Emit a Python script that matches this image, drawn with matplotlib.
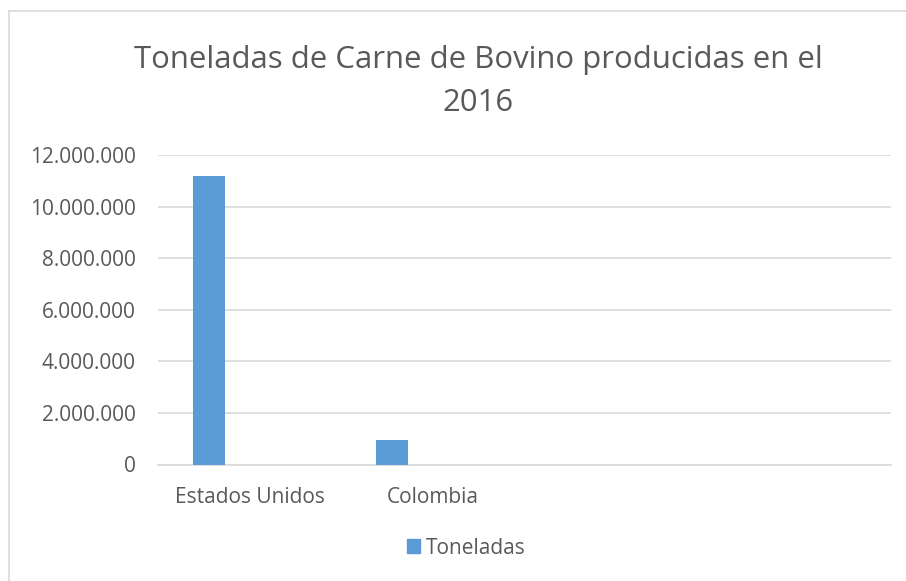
import matplotlib.pyplot as plt
from matplotlib.ticker import FuncFormatter, MultipleLocator
from matplotlib.lines import Line2D
from matplotlib.patches import Patch

# data
categories = ["Estados Unidos", "Colombia", "", ""]
toneladas = [11200000, 940000, 0, 0]
y_ticks_step = 2000000

plt.rcParams["font.family"] = ["Open Sans", "DejaVu Sans"]
grey_txt = "#595959"
bar_color = "#5b9bd5"

fig = plt.figure(figsize=(9.06, 5.81), dpi=100)
ax = fig.add_axes([158 / 906, 1 - 464.5 / 581, 733 / 906, 309.5 / 581])

x = list(range(len(categories)))
offset = -0.222  # first of a clustered group
ax.bar([i + offset for i in x], toneladas, width=0.175, color=bar_color, zorder=3)

ax.set_xlim(-0.5, len(categories) - 0.5)
ax.set_ylim(0, 12000000)
ax.yaxis.set_major_locator(MultipleLocator(y_ticks_step))
ax.yaxis.set_major_formatter(FuncFormatter(lambda v, p: f"{int(v):,}".replace(",", ".")))
ax.set_xticks(x)
ax.set_xticklabels(categories)
ax.tick_params(axis="both", length=0, labelsize=15, labelcolor=grey_txt)
ax.tick_params(axis="y", pad=16)
ax.tick_params(axis="x", pad=16)
ax.grid(axis="y", color="#d9d9d9", linewidth=1.2, zorder=0)
for s in ["top", "right", "left"]:
    ax.spines[s].set_visible(False)
ax.spines["bottom"].set_color("#d9d9d9")
ax.spines["bottom"].set_linewidth(1.2)

fig.text(478 / 906, 1 - 60 / 581, "Toneladas de Carne de Bovino producidas en el",
         ha="center", va="center", fontsize=22.4, color=grey_txt)
fig.text(478 / 906, 1 - 103 / 581, "2016",
         ha="center", va="center", fontsize=22.4, color=grey_txt)

# chart area border (top and left visible)
fig.add_artist(Line2D([9 / 906, 1], [1 - 11 / 581] * 2, color="#d9d9d9", linewidth=1.2))
fig.add_artist(Line2D([9 / 906] * 2, [0, 1 - 11 / 581], color="#d9d9d9", linewidth=1.2))

fig.legend(handles=[Patch(color=bar_color, label="Toneladas")],
           loc="center", bbox_to_anchor=(466 / 906, 1 - 548 / 581),
           frameon=False, fontsize=15, handlelength=0.65, handleheight=0.65,
           handletextpad=0.25, labelcolor=grey_txt)

fig.savefig("out.png", dpi=100)
